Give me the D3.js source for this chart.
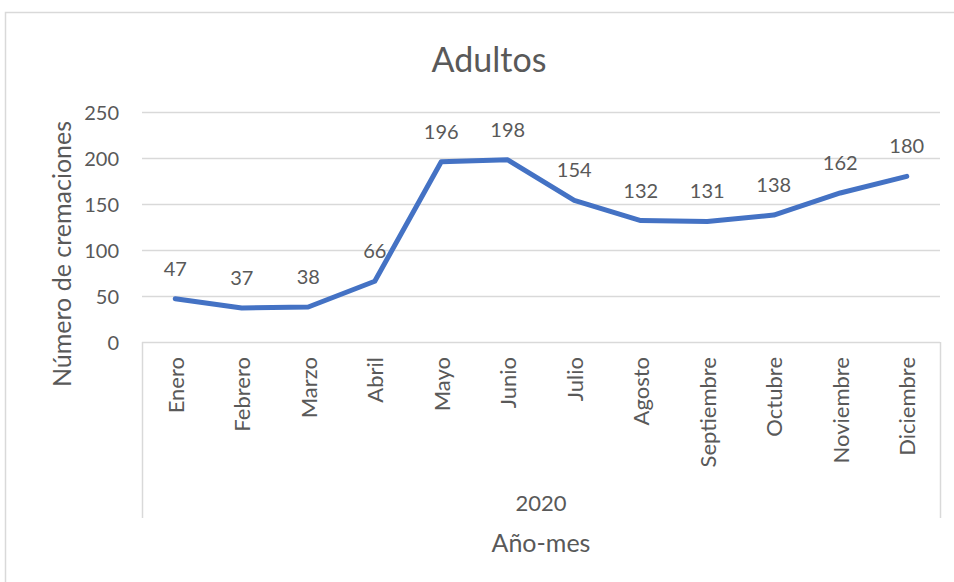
<!DOCTYPE html>
<html>
<head>
<meta charset="utf-8">
<script src="https://cdn.jsdelivr.net/npm/d3@7"></script>
<style>
  body { margin: 0; background: #fff; }
  svg text { font-family: Lato, "Open Sans", sans-serif; fill: #595959; }
</style>
</head>
<body>
<svg width="954" height="582"></svg>
<script>
// data
var months = ["Enero", "Febrero", "Marzo", "Abril", "Mayo", "Junio", "Julio",
              "Agosto", "Septiembre", "Octubre", "Noviembre", "Diciembre"];
var cremations = [47, 37, 38, 66, 196, 198, 154, 132, 131, 138, 162, 180];
var yTicks = [0, 50, 100, 150, 200, 250];
var yearLabel = "2020";

var svg = d3.select("svg");

// chart border (right/bottom edges fall outside the window)
svg.append("rect")
   .attr("x", 5.5).attr("y", 12.5)
   .attr("width", 970).attr("height", 600)
   .attr("fill", "none")
   .attr("stroke", "#d9d9d9")
   .attr("stroke-width", 1.5);

var x = d3.scaleBand()
          .domain(months)
          .range([142, 940]);

var y = d3.scaleLinear()
          .domain([0, 250])
          .range([342, 112]);

// gridlines
svg.append("g")
   .selectAll("line")
   .data(yTicks)
   .join("line")
   .attr("x1", 142).attr("x2", 940)
   .attr("y1", function(d) { return y(d) + 0.5; })
   .attr("y2", function(d) { return y(d) + 0.5; })
   .attr("stroke", "#d9d9d9")
   .attr("stroke-width", 1.5);

// y tick labels
svg.append("g")
   .selectAll("text")
   .data(yTicks)
   .join("text")
   .attr("x", 119)
   .attr("y", function(d) { return y(d); })
   .attr("text-anchor", "end")
   .attr("dominant-baseline", "central")
   .style("font-size", "20px")
   .text(function(d) { return d; });

// category axis box: outer separators down to the year row
[142, 940].forEach(function(px) {
    svg.append("line")
       .attr("x1", px + 0.5).attr("x2", px + 0.5)
       .attr("y1", 342).attr("y2", 518)
       .attr("stroke", "#d9d9d9")
       .attr("stroke-width", 1.5);
});

// month labels
svg.append("g")
   .selectAll("text")
   .data(months)
   .join("text")
   .attr("transform", function(d) {
       return "translate(" + (x(d) + x.bandwidth() / 2) + ",357) rotate(-90)";
   })
   .attr("text-anchor", "end")
   .attr("dominant-baseline", "central")
   .style("font-size", "22px")
   .text(function(d) { return d; });

// year label
svg.append("text")
   .attr("x", (142 + 940) / 2)
   .attr("y", 502)
   .attr("text-anchor", "middle")
   .attr("dominant-baseline", "central")
   .style("font-size", "22px")
   .text(yearLabel);

// axis titles
svg.append("text")
   .attr("x", 541)
   .attr("y", 542)
   .attr("text-anchor", "middle")
   .attr("dominant-baseline", "central")
   .style("font-size", "25px")
   .text("Año-mes");

svg.append("text")
   .attr("transform", "translate(61,254) rotate(-90)")
   .attr("text-anchor", "middle")
   .attr("dominant-baseline", "central")
   .style("font-size", "25px")
   .text("Número de cremaciones");

// title
svg.append("text")
   .attr("x", 489)
   .attr("y", 58)
   .attr("text-anchor", "middle")
   .attr("dominant-baseline", "central")
   .style("font-size", "34px")
   .text("Adultos");

// line
var line = d3.line()
             .x(function(d, i) { return x(months[i]) + x.bandwidth() / 2; })
             .y(function(d) { return y(d); });

svg.append("path")
   .datum(cremations)
   .attr("d", line)
   .attr("fill", "none")
   .attr("stroke", "#4472c4")
   .attr("stroke-width", 5)
   .attr("stroke-linejoin", "round")
   .attr("stroke-linecap", "round");

// data labels above points
svg.append("g")
   .selectAll("text")
   .data(cremations)
   .join("text")
   .attr("x", function(d, i) { return x(months[i]) + x.bandwidth() / 2; })
   .attr("y", function(d) { return y(d) - 31; })
   .attr("text-anchor", "middle")
   .attr("dominant-baseline", "central")
   .style("font-size", "20px")
   .text(function(d) { return d; });
</script>
</body>
</html>
